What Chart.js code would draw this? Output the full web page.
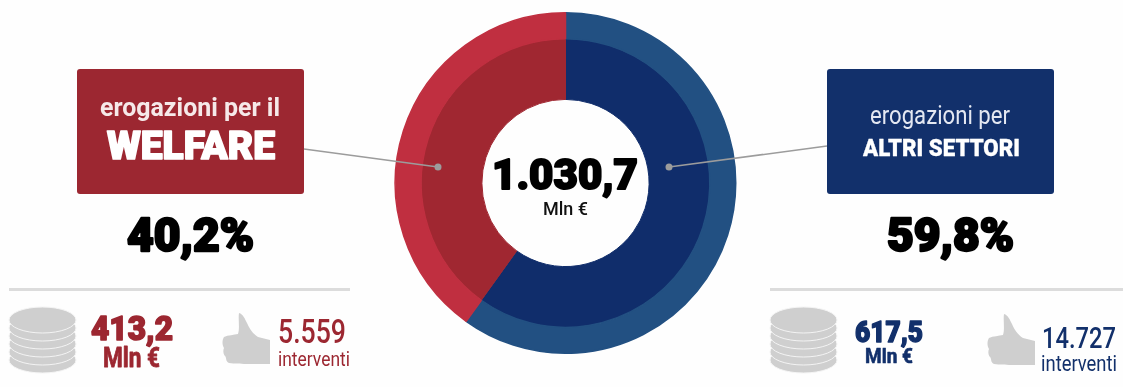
<!DOCTYPE html>
<html lang="it">
<head>
<meta charset="utf-8">
<title>Erogazioni</title>
<script src="https://cdn.jsdelivr.net/npm/chart.js@4"></script>
<style>
    html, body { margin: 0; padding: 0; background: #fefefe; overflow: hidden; }
    #wrap { position: relative; width: 1123px; height: 387px; }
    #chart { position: absolute; left: 0; top: 0; }
    #overlay { position: absolute; left: 0; top: 0; }
</style>
</head>
<body>
<div id="wrap">
    <canvas id="chart" width="1123" height="387"></canvas>
    <svg id="overlay" width="1123" height="387" xmlns="http://www.w3.org/2000/svg"></svg>
</div>
<script>
const categories = ['ALTRI SETTORI', 'WELFARE'];
const amounts = [617.5, 413.2];
const totalLabel = '1.030,7';
const shareLabels = ['59,8%', '40,2%'];
const amountLabels = ['617,5', '413,2'];
const interventionLabels = ['14.727', '5.559'];
const unitLabel = 'Mln €';
const interventionUnit = 'interventi';
const outerColors = ['#225082', '#c02f40'];
const innerColors = ['#102d6b', '#a02731'];

new Chart(document.getElementById('chart').getContext('2d'), {
    type: 'doughnut',
    data: {
        labels: categories,
        datasets: [
            // il bordo dello stesso colore copre la linea chiara tra gli anelli
            { data: amounts, backgroundColor: outerColors, borderColor: outerColors, borderWidth: 1.5, weight: 26 },
            { data: amounts, backgroundColor: innerColors, borderColor: innerColors, borderWidth: 1, weight: 61 }
        ]
    },
    options: {
        responsive: false,
        animation: false,
        cutout: '49.1%',
        layout: { padding: { left: 394.5, right: 386.5, top: 12, bottom: 33 } },
        plugins: { legend: { display: false }, tooltip: { enabled: false } }
    }
});

// Decorazioni e testi sopra il grafico
const svg = document.getElementById('overlay');
const NS = 'http://www.w3.org/2000/svg';

function add(tag, attrs, parent) {
    const el = document.createElementNS(NS, tag);
    Object.keys(attrs).forEach(k => el.setAttribute(k, attrs[k]));
    (parent || svg).appendChild(el);
    return el;
}

function label(str, x, base, width, size, weight, color, fatten) {
    const el = add('text', {
        x: x, y: base, textLength: width, lengthAdjust: 'spacingAndGlyphs',
        'font-size': size, 'font-weight': weight, fill: color,
        'font-family': 'Roboto, sans-serif',
        stroke: fatten ? color : 'none', 'stroke-width': fatten || 0,
        'stroke-linejoin': 'round'
    });
    el.textContent = str;
}

function coins(x) {
    const w = 67;
    for (let i = 5; i >= 0; i--) {
        const y = 320 + i * 8;
        add('ellipse', { cx: x + w / 2, cy: y, rx: w / 2, ry: 13, fill: '#cfcfcf', stroke: '#f4f4f4', 'stroke-width': 1 });
    }
}

function thumb(x, y) {
    add('path', {
        fill: '#cfcfcf',
        transform: 'translate(' + x + ',' + y + ')',
        d: 'M17 0 C21 1 23 6 25 10 C27 15 31 21 36 24 L48 27 L48 51 L22 51 C15 50 14 51 7 50 C3 48 5 45 3 43 C1 41 1 37 2 35 C0 32 0 27 2 24 C6 22 12 22 16 21 C18 15 16 6 17 0 Z'
    });
}

// riquadri
add('rect', { x: 77, y: 69, width: 227, height: 125, rx: 3, fill: '#9c2731' });
add('rect', { x: 827, y: 69, width: 227, height: 125, rx: 3, fill: '#12306b' });

// linee di collegamento
add('line', { x1: 304, y1: 149, x2: 438, y2: 167, stroke: '#9c9c9c', 'stroke-width': 1.5 });
add('line', { x1: 827, y1: 146, x2: 669, y2: 167, stroke: '#9c9c9c', 'stroke-width': 1.5 });
add('circle', { cx: 438, cy: 167, r: 3.5, fill: '#9c9c9c' });
add('circle', { cx: 669, cy: 167, r: 3.5, fill: '#9c9c9c' });

// separatori
add('rect', { x: 9, y: 288, width: 341, height: 3, fill: '#dcdcdc' });
add('rect', { x: 770, y: 288, width: 353, height: 3, fill: '#dcdcdc' });

coins(9);
coins(770);
thumb(222, 313);
thumb(987, 314);

// testi centro
label(totalLabel, 492, 189, 146, 43, 900, '#000', 2);
label(unitLabel, 543, 215, 45, 19, 500, '#111');

// lato welfare
label('erogazioni per il', 100, 116, 180, 26, 700, '#f6e9e9');
label(categories[1], 107, 159, 168, 38, 900, '#fff', 1.6);
label(shareLabels[1], 127, 251, 127, 47, 900, '#000', 2.4);
label(amountLabels[1], 91, 340, 82, 34, 900, '#9c2731', 1.6);
label(unitLabel, 103, 367, 57, 27, 700, '#9c2731', 0.8);
label(interventionLabels[1], 278, 343, 68, 33, 500, '#9c2731');
label(interventionUnit, 278, 366, 72, 21, 400, '#9c2731');

// lato altri settori
label('erogazioni per', 870, 124, 140, 26, 400, '#e4e8f2');
label(categories[0], 863, 156, 157, 23, 900, '#fff', 0.3);
label(shareLabels[0], 887, 251, 127, 47, 900, '#000', 2.4);
label(amountLabels[0], 855, 342, 68, 29, 900, '#12306b', 1.4);
label(unitLabel, 865, 363, 48, 21, 700, '#12306b', 0.6);
label(interventionLabels[0], 1042, 348, 74, 30, 500, '#12306b');
label(interventionUnit, 1041, 371, 76, 22, 400, '#12306b');
</script>
</body>
</html>
